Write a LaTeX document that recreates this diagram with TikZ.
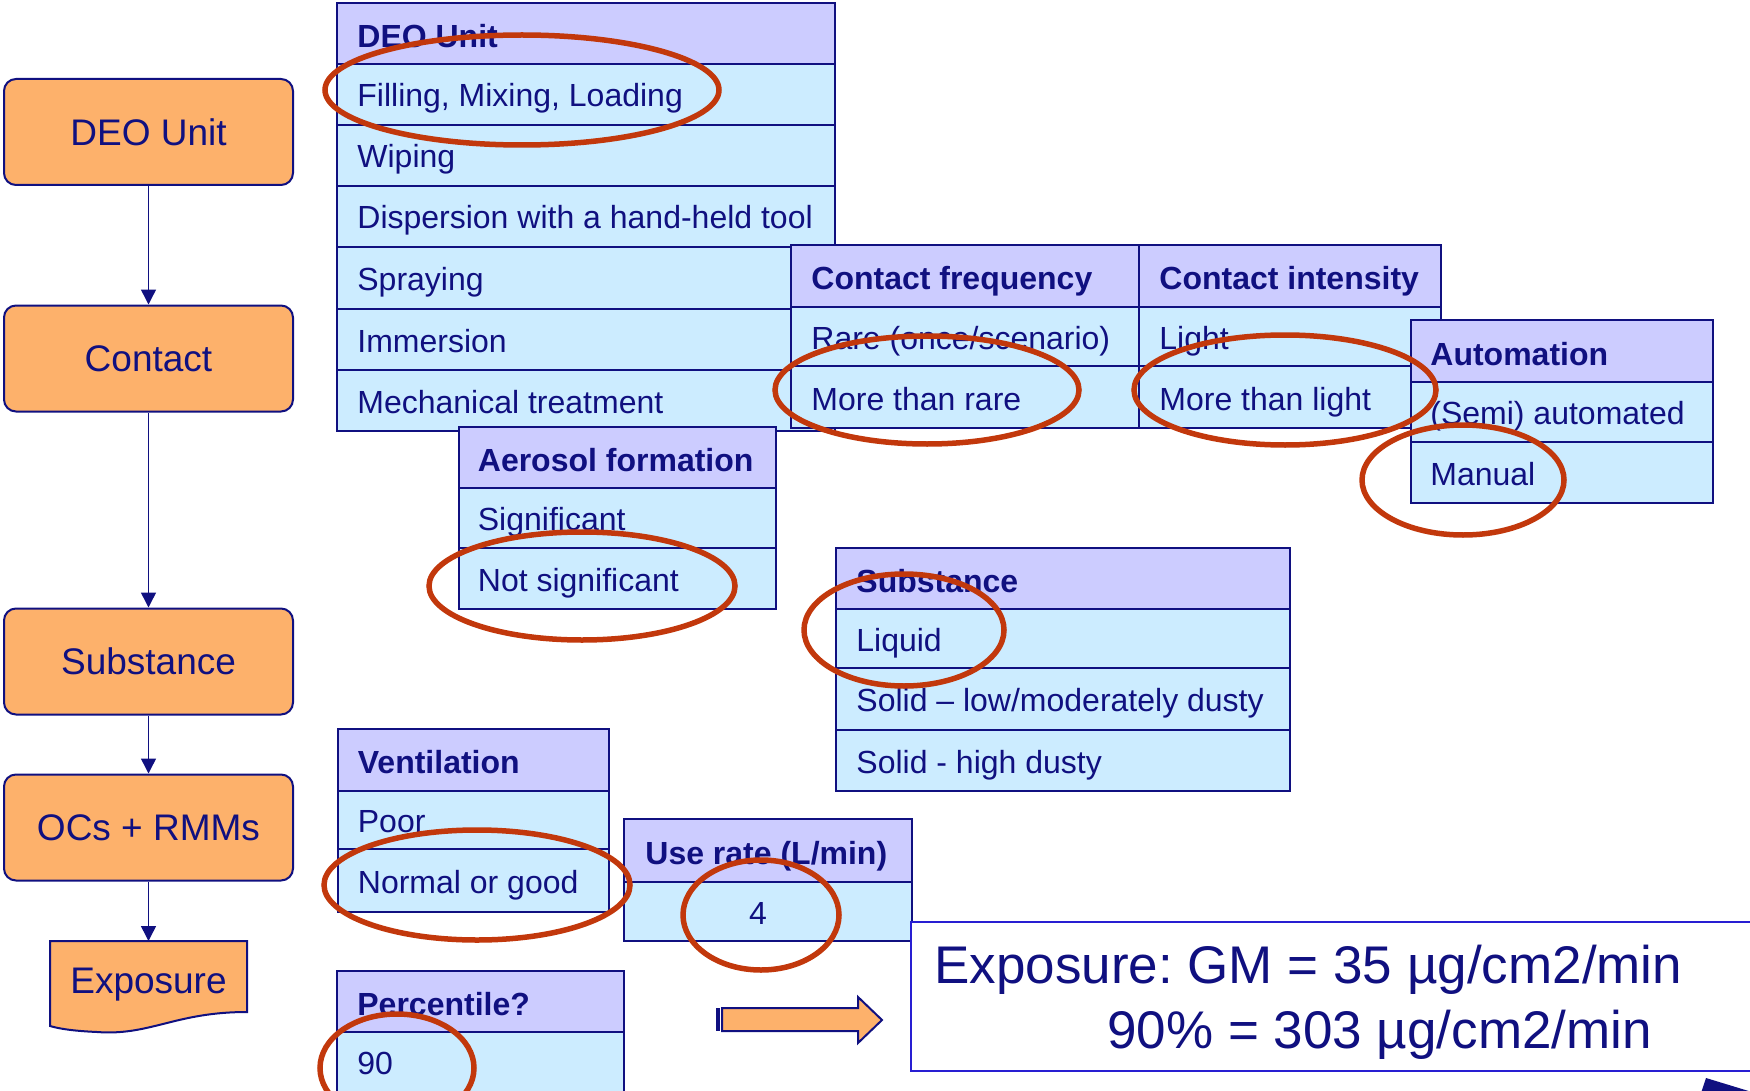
\documentclass[tikz,border=0pt]{standalone}
\usepackage{fontspec}
\setmainfont{Liberation Sans}
\usetikzlibrary{arrows.meta}
\definecolor{navy}{RGB}{16,16,128}
\definecolor{obg}{RGB}{253,177,107}
\definecolor{hbg}{RGB}{204,204,255}
\definecolor{rbg}{RGB}{204,236,255}
\definecolor{ovalc}{RGB}{194,56,12}
\definecolor{bluebd}{RGB}{40,30,210}
\frenchspacing
\begin{document}
\begin{tikzpicture}[x=0.5pt,y=-0.5pt,
 obox/.style={draw=navy, line width=1pt, fill=obg, rounded corners=6pt, minimum width=144.5pt, minimum height=53pt, inner sep=0pt, text=navy, font=\fontsize{18.5pt}{22pt}\selectfont},
 hcell/.style={draw=navy, line width=1.25pt, fill=hbg},
 rcell/.style={draw=navy, line width=1.25pt, fill=rbg},
 tt/.style={anchor=base west, inner sep=0pt, text=navy, font=\fontsize{16pt}{19pt}\selectfont},
 th/.style={tt, font=\fontsize{16pt}{19pt}\selectfont\bfseries},
 oval/.style={draw=ovalc, line width=2.75pt},
 conn/.style={draw=navy, line width=0.75pt, -{Triangle[width=7.5pt,length=7.5pt]}},
 big/.style={anchor=base west, inner sep=0pt, text=navy, font=\fontsize{26.5pt}{30pt}\selectfont}
]
\useasboundingbox (0,0) rectangle (1750,1091);
\clip (0,0) rectangle (1750,1091);

% DEO Unit table
\path[hcell] (337,3) rectangle (835,64);
\path[rcell] (337,64) rectangle (835,125);
\path[rcell] (337,125) rectangle (835,186);
\path[rcell] (337,186) rectangle (835,247);
\path[rcell] (337,247) rectangle (835,309);
\path[rcell] (337,309) rectangle (835,370);
\path[rcell] (337,370) rectangle (835,431);
\node[th] (deoh) at (357,48) {DEO Unit};
\node[tt] (deo1) at (357,106.5) {Filling, Mixing, Loading};
\node[tt] (deo2) at (357,168) {Wiping};
\node[tt] (deo3) at (357,229) {Dispersion with a hand-held tool};
\node[tt] (deo4) at (357,290.5) {Spraying};
\node[tt] (deo5) at (357,352) {Immersion};
\node[tt] (deo6) at (357,413) {Mechanical treatment};

% Contact frequency / intensity
\path[hcell] (791,245) rectangle (1139,307);
\path[rcell] (791,307) rectangle (1139,366);
\path[rcell] (791,366) rectangle (1139,428);
\path[hcell] (1139,245) rectangle (1441,307);
\path[rcell] (1139,307) rectangle (1441,366);
\path[rcell] (1139,366) rectangle (1441,428);
\node[th] (cfh) at (811,289.5) {Contact frequency};
\node[tt] (cf1) at (811,349) {Rare (once/scenario)};
\node[tt] (cf2) at (811,410) {More than rare};
\node[th] (cih) at (1159,289.5) {Contact intensity};
\node[tt] (ci1) at (1159,349) {Light};
\node[tt] (ci2) at (1159,410) {More than light};

% Automation
\path[hcell] (1411,320) rectangle (1713,382);
\path[rcell] (1411,382) rectangle (1713,442);
\path[rcell] (1411,442) rectangle (1713,503);
\node[th] (auh) at (1430,365) {Automation};
\node[tt] (au1) at (1430,424.5) {(Semi) automated};
\node[tt] (au2) at (1430,485) {Manual};

% Aerosol formation
\path[hcell] (459,427) rectangle (776,488);
\path[rcell] (459,488) rectangle (776,548);
\path[rcell] (459,548) rectangle (776,609);
\node[th] (aeh) at (477.5,471) {Aerosol formation};
\node[tt] (ae1) at (477.5,530) {Significant};
\node[tt] (ae2) at (477.5,591) {Not significant};

% Substance
\path[hcell] (836,548) rectangle (1290,609);
\path[rcell] (836,609) rectangle (1290,668);
\path[rcell] (836,668) rectangle (1290,730);
\path[rcell] (836,730) rectangle (1290,791);
\node[th] (suh) at (856,592) {Substance};
\node[tt] (su1) at (856,651) {Liquid};
\node[tt] (su2) at (856,711.5) {Solid – low/moderately dusty};
\node[tt] (su3) at (856,773) {Solid - high dusty};

% Ventilation
\path[hcell] (338,729) rectangle (609,791);
\path[rcell] (338,791) rectangle (609,849);
\path[rcell] (338,849) rectangle (609,912);
\node[th] (veh) at (357.5,773.5) {Ventilation};
\node[tt] (ve1) at (357.5,832.5) {Poor};
\node[tt] (ve2) at (357.5,893) {Normal or good};

% Use rate
\path[hcell] (624,819) rectangle (912,882);
\path[rcell] (624,882) rectangle (912,941);
\node[th] (urh) at (645,864) {Use rate (L/min)};
\node[tt, anchor=base] (ur1) at (758,924) {4};

% Percentile
\path[hcell] (337,971) rectangle (624,1032);
\path[rcell] (337,1032) rectangle (624,1094);
\node[th] (peh) at (357,1015) {Percentile?};
\node[tt] (pe1) at (357,1074.5) {90};

% Result box
\path[draw=bluebd, line width=1.35pt, fill=white] (911,922) rectangle (1775,1071);
\node[big] (res1) at (934,983) {Exposure: GM = 35 µg/cm2/min};
\node[big] (res2) at (1107,1048) {90\% = 303 µg/cm2/min};

% block arrow
\path[draw=navy, line width=1pt, fill=obg] (722,1008) -- (858,1008) -- (858,997) -- (882,1020) -- (858,1043) -- (858,1031) -- (722,1031) -- cycle;
\path[fill=navy] (716,1008) rectangle (720,1031);

% corner triangle
\path[fill=navy] (1706,1078) -- (1765,1096) -- (1700,1096) -- cycle;

% flow boxes
\node[obox] (b1) at (148.5,132) {DEO Unit};
\node[obox] (b2) at (148.5,358.5) {Contact};
\node[obox] (b3) at (148.5,661.5) {Substance};
\node[obox] (b4) at (148.5,827.5) {OCs + RMMs};
\path[draw=navy, line width=1pt, fill=obg] (50,941) -- (247,941) -- (247,1012)
  .. controls (175,1012) and (150,1036) .. (97,1032)
  .. controls (75,1031) and (60,1029) .. (50,1026) -- cycle;
\node[anchor=base, inner sep=0pt, text=navy, font=\fontsize{18.5pt}{22pt}\selectfont] (ex) at (148.5,993) {Exposure};
\coordinate (extop) at (148.5,941);
\draw[conn] (b1) -- (b2);
\draw[conn] (b2) -- (b3);
\draw[conn] (b3) -- (b4);
\draw[conn] (b4) -- (extop);

% red ovals
\draw[oval] (522,90) ellipse [x radius=98.5pt, y radius=27.5pt];
\draw[oval] (927,390) ellipse [x radius=76pt, y radius=27pt];
\draw[oval] (1285,390) ellipse [x radius=75.5pt, y radius=27.5pt];
\draw[oval] (1463,480) ellipse [x radius=50.5pt, y radius=27.5pt];
\draw[oval] (582,586) ellipse [x radius=76.5pt, y radius=27pt];
\draw[oval] (904,630) ellipse [x radius=50pt, y radius=28pt];
\draw[oval] (477,885) ellipse [x radius=76.5pt, y radius=27.5pt];
\draw[oval] (761,915) ellipse [x radius=39pt, y radius=27.5pt];
\draw[oval] (397,1068) ellipse [x radius=38.5pt, y radius=27pt];
\end{tikzpicture}
\end{document}
